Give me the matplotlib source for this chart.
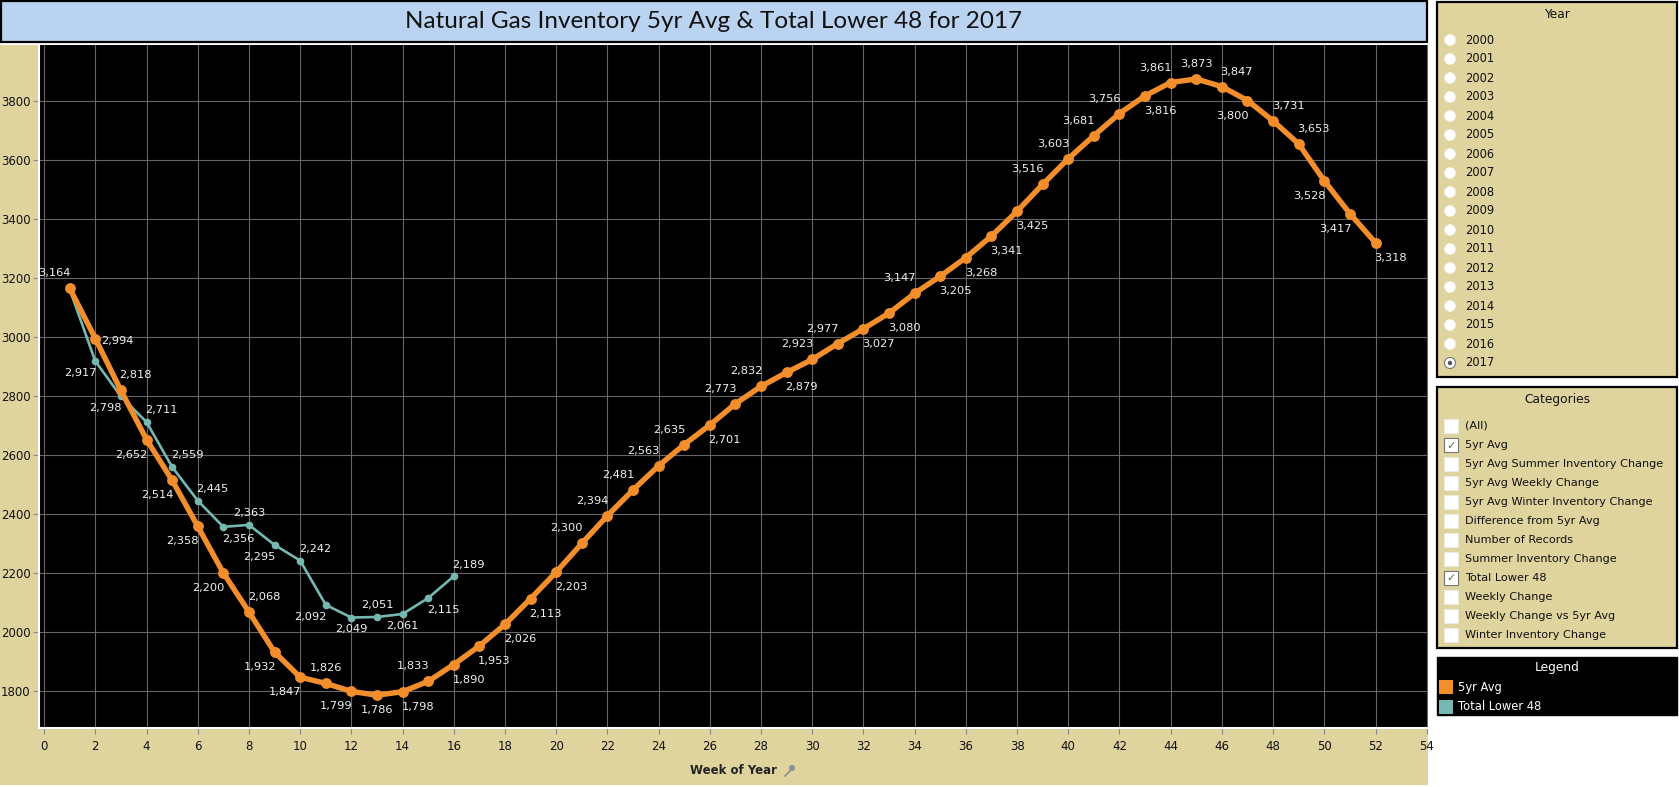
import matplotlib
matplotlib.use("Agg")
import matplotlib.pyplot as plt
from matplotlib.patches import Rectangle, Circle

# data
weeks = list(range(1, 53))
avg_5yr = [3164, 2994, 2818, 2652, 2514, 2358, 2200, 2068, 1932, 1847,
           1826, 1799, 1786, 1798, 1833, 1890, 1953, 2026, 2113, 2203,
           2300, 2394, 2481, 2563, 2635, 2701, 2773, 2832, 2879, 2923,
           2977, 3027, 3080, 3147, 3205, 3268, 3341, 3425, 3516, 3603,
           3681, 3756, 3816, 3861, 3873, 3847, 3800, 3731, 3653, 3528,
           3417, 3318]
lower48_weeks = list(range(1, 17))
lower48 = [3160, 2917, 2798, 2711, 2559, 2445, 2356, 2363, 2295, 2242,
           2092, 2049, 2051, 2061, 2115, 2189]

years = [str(y) for y in range(2000, 2018)]
categories = ["(All)", "5yr Avg", "5yr Avg Summer Inventory Change",
              "5yr Avg Weekly Change", "5yr Avg Winter Inventory Change",
              "Difference from 5yr Avg", "Number of Records",
              "Summer Inventory Change", "Total Lower 48", "Weekly Change",
              "Weekly Change vs 5yr Avg", "Winter Inventory Change"]
checked = ["5yr Avg", "Total Lower 48"]

# where each value label sits relative to its point
avg_pos = ['ul', 'r', 'ur', 'dl', 'dl', 'dl', 'dl', 'ur', 'dl', 'dl',
           'u', 'dl', 'd', 'dr', 'ul', 'dr', 'dr', 'dr', 'dr', 'dr',
           'ul', 'ul', 'ul', 'ul', 'ul', 'dr', 'ul', 'ul', 'dr', 'ul',
           'ul', 'dr', 'dr', 'ul', 'dr', 'dr', 'dr', 'dr', 'ul', 'ul',
           'ul', 'ul', 'dr', 'ul', 'u', 'ur', 'dl', 'ur', 'ur', 'dl',
           'dl', 'dr']
low_pos = [None, 'dl', 'dl', 'ur', 'ur', 'ur', 'dr', 'u', 'dl', 'ur',
           'dl', 'd', 'u', 'd', 'dr', 'ur']

ORANGE = '#f28e2b'
TEAL = '#76b7b2'
BEIGE = '#dfd39e'
W, H = 1679, 787

fig = plt.figure(figsize=(W / 100, H / 100), dpi=100)
fig.patch.set_facecolor('white')

# pixel overlay for the dashboard frame
ov = fig.add_axes([0, 0, 1, 1], zorder=0)
ov.set_xlim(0, W)
ov.set_ylim(H, 0)
ov.axis('off')

ov.add_patch(Rectangle((0, 45), 1428, 740, facecolor=BEIGE, edgecolor='none'))
ov.add_patch(Rectangle((1, 1), 1426, 41, facecolor='#b9d3f1', edgecolor='black', lw=1.6))
ov.text(714, 21, "Natural Gas Inventory 5yr Avg & Total Lower 48 for 2017",
        ha='center', va='center', fontsize=17.5, family='Lato', color='#111111')

# Year filter
ov.add_patch(Rectangle((1437, 2), 240, 375, facecolor=BEIGE, edgecolor='black', lw=1.6))
ov.text(1557, 15, "Year", ha='center', va='center', fontsize=8.8, color='#111111')
for i, yr in enumerate(years):
    yy = 40 + 19 * i
    if yr == '2017':
        ov.add_patch(Circle((1450, yy), 5.5, facecolor='white', edgecolor='#777777', lw=0.8))
        ov.add_patch(Circle((1450, yy), 2.2, facecolor='#555555', edgecolor='none'))
    else:
        ov.add_patch(Circle((1450, yy), 5.5, facecolor='white', edgecolor='#f4f0e0', lw=0.6))
    ov.text(1465, yy, yr, ha='left', va='center', fontsize=8.3, color='#111111')

# Categories filter
ov.add_patch(Rectangle((1437, 387), 240, 261, facecolor=BEIGE, edgecolor='black', lw=1.6))
ov.text(1557, 400, "Categories", ha='center', va='center', fontsize=8.8, color='#111111')
for i, cat in enumerate(categories):
    yy = 426 + 19 * i
    on = cat in checked
    ov.add_patch(Rectangle((1444, yy - 7), 14, 14, facecolor='white',
                           edgecolor='#777777' if on else '#eeeadb', lw=0.8))
    if on:
        ov.text(1451, yy + 0.5, "\u2713", ha='center', va='center', fontsize=8, color='#666666')
    ov.text(1465, yy, cat, ha='left', va='center', fontsize=8.1, color='#111111')

# Legend
ov.add_patch(Rectangle((1437, 657), 240, 58, facecolor='black', edgecolor='black'))
ov.text(1557, 667, "Legend", ha='center', va='center', fontsize=8.8, color='white')
for yy, col, name in [(687, ORANGE, "5yr Avg"), (707, TEAL, "Total Lower 48")]:
    ov.add_patch(Rectangle((1439, yy - 7), 14, 14, facecolor=col, edgecolor='none'))
    ov.text(1458, yy, name, ha='left', va='center', fontsize=8.3, color='white')

# x axis title with pin
ov.text(733, 770, "Week of Year", ha='center', va='center', fontsize=8.5,
        fontweight='bold', color='#222222')
ov.plot([785, 791], [776, 770], color='#8a8f99', lw=1.2)
ov.add_patch(Circle((792, 768), 3, facecolor='#8a8f99', edgecolor='none'))

# main chart
ax = fig.add_axes([39 / W, 1 - 728 / H, (1428 - 39) / W, (728 - 45) / H], zorder=2)
ax.set_facecolor('black')
ax.set_xlim(-0.2, 54.05)
ax.set_ylim(1675, 3988)
ax.set_xticks(range(0, 55, 2))
ax.set_yticks(range(1800, 3801, 200))
ax.grid(True, color='#666666', lw=0.8)
ax.set_axisbelow(True)
for s in ['top', 'right']:
    ax.spines[s].set_visible(False)
for s in ['left', 'bottom']:
    ax.spines[s].set_color('white')
    ax.spines[s].set_linewidth(1.5)
ax.tick_params(axis='both', colors='#888888', labelcolor='#111111', labelsize=8.5, length=4)
ax.tick_params(axis='x', pad=5)
ax.tick_params(axis='y', pad=2)

ax.plot(lower48_weeks, lower48, color=TEAL, lw=1.9, marker='o', ms=4.5, zorder=3)
ax.plot(weeks, avg_5yr, color=ORANGE, lw=3.9, marker='o', ms=6.8, zorder=4)

off = {'ul': (-15, -15), 'ur': (15, -15), 'dl': (-15, 15), 'dr': (15, 15),
       'u': (0, -15), 'd': (0, 15), 'r': (22, 2), 'l': (-22, 2)}


def label(xs, ys, pos, vscale):
    for x, y, p in zip(xs, ys, pos):
        if p is None:
            continue
        dx, dy = off[p]
        if p not in ('r', 'l'):
            dy = dy * vscale
        ax.annotate(f"{y:,}", (x, y), xytext=(dx, -dy), textcoords='offset pixels',
                    ha='center', va='center', fontsize=8.2, color='#f2f2f2', zorder=5)


label(weeks, avg_5yr, avg_pos, 1.0)
label(lower48_weeks, lower48, low_pos, 0.78)

fig.savefig('out.png', dpi=100, facecolor='white')
